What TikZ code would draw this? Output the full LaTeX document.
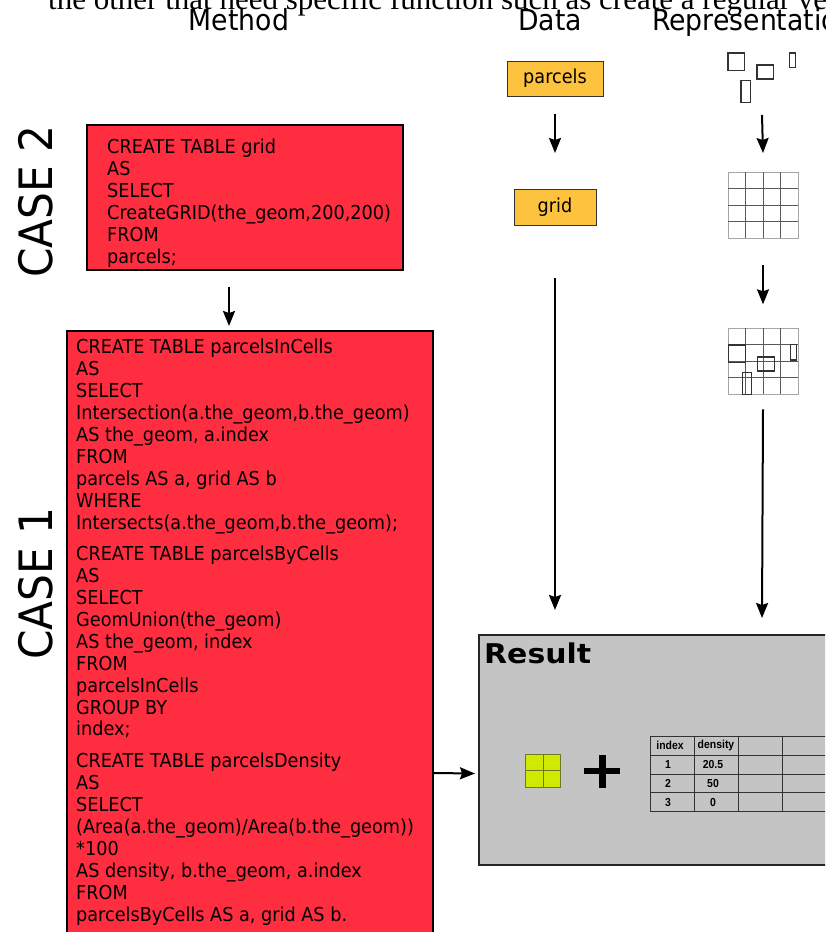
\documentclass[tikz,border=0pt]{standalone}
\usepackage{fontspec}
\usetikzlibrary{arrows.meta,calc}
\newfontfamily\dejav[FakeStretch=0.92]{DejaVu Sans}
\newfontfamily\dejavw[FakeStretch=1.1]{DejaVu Sans}
\newfontfamily\tabfont[FakeStretch=0.9]{Liberation Sans}
\newfontfamily\serifcut{Liberation Serif}
\definecolor{sqlred}{RGB}{255,45,64}
\definecolor{datayel}{RGB}{254,195,62}
\definecolor{resgray}{RGB}{196,196,196}
\definecolor{cellgreen}{RGB}{207,234,0}
\definecolor{celledge}{RGB}{110,120,40}
\definecolor{tabline}{RGB}{50,50,50}
\begin{document}
\begin{tikzpicture}[x=1pt,y=-1pt,
  redbox/.style={draw=black, line width=2pt, fill=sqlred, anchor=north west, inner sep=0pt, outer sep=0pt},
  databox/.style={draw=black!80, line width=1pt, fill=datayel, inner sep=0pt, outer sep=0pt, font=\dejav\fontsize{19.2}{22}\selectfont},
  code/.style={anchor=base west, inner sep=0pt, font=\dejav\fontsize{19.2}{22}\selectfont},
  hdr/.style={anchor=base, inner sep=0pt, font=\dejav\fontsize{29}{30}\selectfont},
  casetxt/.style={anchor=base, rotate=90, inner sep=0pt, font=\dejav\fontsize{46}{48}\selectfont},
  arr/.style={line width=2pt, -{Stealth[length=15pt,width=12pt,inset=2pt]}},
  gridbox/.style={draw=black!35, line width=0.8pt, anchor=north west, inner sep=0pt, outer sep=0pt, minimum width=70pt, minimum height=66pt},
  innergrid/.style={draw=black!65, line width=0.8pt},
  partrect/.style={draw=black!80, line width=1.3pt},
  tabtxt/.style={inner sep=0pt, font=\tabfont\bfseries\fontsize{11.6}{13}\selectfont}
]
\useasboundingbox (0,0) rectangle (825,932);
\clip (0,0) rectangle (825,932);

% clipped line of text at the very top
\node[anchor=base west, inner sep=0pt, font=\serifcut\fontsize{31}{33}\selectfont] (cutline) at (48,9.5) {the other that need specific function such as create a regular vector};

% headers
\node[hdr] (hmethod) at (239,30) {Method};
\node[hdr] (hdata) at (550,30) {Data};
\node[hdr, anchor=base west] (hrep) at (652,30) {Representation};

% case labels
\node[casetxt] (case2lbl) at (52,201.5) {CASE 2};
\node[casetxt] (case1lbl) at (52,583.5) {CASE 1};

% case 2 box
\node[redbox, minimum width=316pt, minimum height=145pt] (case2) at (87,125) {};
\foreach \t [count=\i from 0] in {{CREATE TABLE grid},{AS},{SELECT},{CreateGRID(the\_geom,200,200)},{FROM},{parcels;}}
  \node[code] (cb\i) at (107,153.3+22*\i) {\t};

% case 1 box
\node[redbox, minimum width=366pt, minimum height=700pt] (case1) at (67,331) {};
\foreach \t [count=\i from 0] in {{CREATE TABLE parcelsInCells},{AS},{SELECT},{Intersection(a.the\_geom,b.the\_geom)},{AS the\_geom, a.index},{FROM},{parcels AS a, grid AS b},{WHERE},{Intersects(a.the\_geom,b.the\_geom);}}
  \node[code] (ca\i) at (76,353.3+22*\i) {\t};
\foreach \t [count=\i from 0] in {{CREATE TABLE parcelsByCells},{AS},{SELECT},{GeomUnion(the\_geom)},{AS the\_geom, index},{FROM},{parcelsInCells},{GROUP BY},{index;}}
  \node[code] (cc\i) at (76,560.7+21.9*\i) {\t};
\foreach \t [count=\i from 0] in {{CREATE TABLE parcelsDensity},{AS},{SELECT},{(Area(a.the\_geom)/Area(b.the\_geom))},{*100},{AS density, b.the\_geom, a.index},{FROM},{parcelsByCells AS a, grid AS b.}}
  \node[code] (cd\i) at (76,767.3+22*\i) {\t};

\draw[arr] ($(case2.south west)+(142,17)$) -- ($(case1.north west)+(162,-5)$);

% result box
\node[draw=black!85, line width=2pt, fill=resgray, anchor=north west, inner sep=0pt, outer sep=0pt, minimum width=360pt, minimum height=230pt] (res) at (479,634.5) {};
\node[anchor=base west, inner sep=0pt, font=\dejavw\bfseries\fontsize{27.2}{30}\selectfont] (restitle) at (484,663.5) {Result};
\draw[arr] ($(case1.north east)+(0,442)$) -- ($(res.north west)+(-4,139)$);

% green square
\node[draw=celledge, line width=0.8pt, fill=cellgreen, anchor=north west, inner sep=0pt, outer sep=0pt, minimum width=35pt, minimum height=33pt] (sq) at (525.5,754.2) {};
\draw[celledge, line width=0.8pt] (sq.north) -- (sq.south) (sq.west) -- (sq.east);

% plus sign
\fill[black] (584,767.8) rectangle (619.5,774);
\fill[black] (599,755) rectangle (605.5,788);

% table
\node[draw=tabline, line width=1pt, anchor=north west, inner sep=0pt, outer sep=0pt, minimum width=176pt, minimum height=75pt] (tbl) at (650,736) {};
\foreach \x in {694.3,738.7,782.3} \draw[tabline, line width=1pt] (\x,736) -- (\x,811);
\foreach \y in {755,774,792.7} \draw[tabline, line width=1pt] (650,\y) -- (826,\y);
\node[tabtxt] (t00) at (670,745.8) {index};
\node[tabtxt] (t01) at (716,745.8) {density};
\node[tabtxt] (t10) at (668,764.8) {1};
\node[tabtxt] (t11) at (713,764.8) {20.5};
\node[tabtxt] (t20) at (668,783.6) {2};
\node[tabtxt] (t21) at (713,783.6) {50};
\node[tabtxt] (t30) at (668,802.2) {3};
\node[tabtxt] (t31) at (713,802.2) {0};

% data column
\node[databox, minimum width=96pt, minimum height=35pt] (parcels) at (555,78.5) {parcels};
\node[databox, minimum width=82pt, minimum height=36pt] (grid) at (555,207) {grid};
\draw[arr] ($(parcels.south)+(0,18)$) -- ($(grid.north)+(0,-36)$);
\coordinate (dend) at (555,610);
\draw[arr] ($(grid.south)+(0,53)$) -- (dend);

% representation column
\node[inner sep=0pt, outer sep=0pt, minimum width=68pt, minimum height=49pt] (parts) at (762,77.5) {};
\draw[partrect] (728,53) rectangle (744.3,70.3);
\draw[partrect] (757,65) rectangle (773.3,79);
\draw[partrect] (789.5,53) rectangle (795.7,67.7);
\draw[partrect] (741,80.7) rectangle (750.7,102.3);

\node[gridbox] (grid1) at (728,172) {};
\foreach \k in {1,2,3} {
  \draw[innergrid] (728+17.5*\k,172) -- (728+17.5*\k,238);
  \draw[innergrid] (728,172+16.5*\k) -- (798,172+16.5*\k);
}
\draw[arr] ($(parts.south)+(0,13)$) -- ($(grid1.north)+(0,-19)$);

\node[gridbox] (grid2) at (728,328.3) {};
\foreach \k in {1,2,3} {
  \draw[innergrid] (728+17.5*\k,328.3) -- (728+17.5*\k,394.3);
  \draw[innergrid] (728,328.3+16.5*\k) -- (798,328.3+16.5*\k);
}
\draw[partrect, line width=1.5pt] (728.7,345) rectangle (745.3,362.3);
\draw[partrect, line width=1.5pt] (757.7,357) rectangle (774.7,371);
\draw[partrect, line width=1.5pt] (790.7,344.7) rectangle (796.7,360);
\draw[partrect, line width=1.5pt] (742.3,372.3) rectangle (751.7,394.3);
\draw[arr] ($(grid1.south)+(0,27)$) -- ($(grid2.north)+(0,-24)$);
\coordinate (rend) at (762,618);
\draw[arr] ($(grid2.south)+(0,15)$) -- (rend);
\end{tikzpicture}
\end{document}
